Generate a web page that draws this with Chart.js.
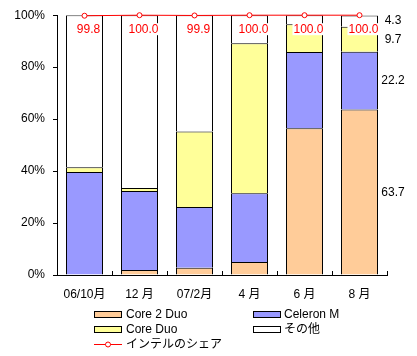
<!DOCTYPE html>
<html><head><meta charset="utf-8">
<script src="https://cdn.jsdelivr.net/npm/chart.js@4/dist/chart.umd.min.js"></script>
<style>
body{margin:0;background:#fff;}
#wrap{position:relative;width:417px;height:356px;overflow:hidden;}
canvas{position:absolute;left:0;top:0;}
.lt{position:absolute;font:12px 'Liberation Sans','Noto Sans CJK JP',sans-serif;color:#000;line-height:14px;white-space:nowrap;}
.bx{position:absolute;width:26px;height:5px;border:1px solid #000;}
</style></head><body>
<div id="wrap"><canvas id="c" width="417" height="356"></canvas><div id="legend"></div></div>
<script>
const categories = ["06/10月", "12 月", "07/2月", "4 月", "6 月", "8 月"];
const core2Duo   = [0.0, 1.9, 2.8, 5.0, 56.5, 63.7];
const celeronM   = [39.6, 30.4, 23.4, 26.5, 29.3, 22.2];
const coreDuo    = [1.9, 1.2, 29.0, 57.7, 10.7, 9.7];
const others     = [58.5, 66.5, 44.8, 10.8, 3.5, 4.3];
const intelShare = [99.8, 100.0, 99.9, 100.0, 100.0, 100.0];
const seriesNames = ["Core 2 Duo", "Celeron M", "Core Duo", "その他", "インテルのシェア"];
const seriesColors = ["#FFCC99", "#9999FF", "#FFFF99", "#FFFFFF", "#FF0000"];

const FONT = "'Liberation Sans','Noto Sans CJK JP',sans-serif";
const stacks = [core2Duo, celeronM, coreDuo, others];

const annot = {
  id: 'annot',
  afterDatasetsDraw(chart) {
    const ctx = chart.ctx, xs = chart.scales.x, ys = chart.scales.y, ca = chart.chartArea;
    ctx.save();
    // inner tick marks on category boundaries
    ctx.strokeStyle = '#000'; ctx.lineWidth = 1;
    for (let i = 1; i <= categories.length; i++) {
      const px = Math.round(xs.getPixelForValue(i - 0.5)) + 0.5;
      ctx.beginPath(); ctx.moveTo(px, ca.bottom); ctx.lineTo(px, ca.bottom - 4); ctx.stroke();
    }
    // share labels
    const meta = chart.getDatasetMeta(4);
    ctx.font = '12px ' + FONT; ctx.textAlign = 'center'; ctx.textBaseline = 'middle';
    meta.data.forEach((pt, i) => {
      const t = intelShare[i].toFixed(1);
      const w = ctx.measureText(t).width;
      const cx = pt.x + 4, cy = ys.getPixelForValue(100) + 14;
      ctx.fillStyle = '#fff'; ctx.fillRect(cx - w / 2 - 1, cy - 6, w + 2, 12);
      ctx.fillStyle = '#f00'; ctx.fillText(t, cx, cy);
    });
    // value labels next to the last bar
    const last = categories.length - 1;
    const bar = chart.getDatasetMeta(0).data[last];
    const lx = bar.x + bar.width / 2 + 15;
    let cum = 0;
    ctx.fillStyle = '#000';
    stacks.forEach(arr => {
      const v = arr[last];
      const py = ys.getPixelForValue(cum + v / 2);
      ctx.fillText(v.toFixed(1), lx, py);
      cum += v;
    });
    ctx.restore();
  }
};

const barDs = (i, data) => ({
  label: seriesNames[i], data, backgroundColor: seriesColors[i],
  borderColor: '#000', borderWidth: 1, inflateAmount: 0, order: 1, stack: 'cpu'
});

new Chart(document.getElementById('c'), {
  type: 'bar',
  data: {
    labels: categories,
    datasets: [
      barDs(0, core2Duo), barDs(1, celeronM), barDs(2, coreDuo), barDs(3, others),
      { type: 'line', label: seriesNames[4], data: intelShare, borderColor: seriesColors[4],
        borderWidth: 1, pointRadius: 2.5, pointBackgroundColor: '#fff', pointBorderColor: '#f00',
        pointBorderWidth: 1, order: 0, stack: 'share', clip: false, tension: 0, fill: false }
    ]
  },
  options: {
    responsive: false, animation: false,
    layout: { padding: { top: 15, right: 30, left: 0, bottom: 0 } },
    plugins: { legend: { display: false }, tooltip: { enabled: false } },
    datasets: { bar: { categoryPercentage: 1, barPercentage: 0.673 } },
    scales: {
      x: {
        stacked: true, offset: true,
        grid: { display: false, drawTicks: false },
        border: { display: true, color: '#000', width: 1 },
        ticks: { color: '#000', font: { size: 12, family: FONT }, padding: 12, maxRotation: 0, autoSkip: false },
        afterFit(s) { s.height = 81; }
      },
      y: {
        stacked: true, min: 0, max: 100,
        ticks: { stepSize: 20, color: '#000', font: { size: 12, family: FONT }, padding: 8, callback: v => v + '%' },
        grid: { drawOnChartArea: false, tickLength: 4, color: '#000' },
        border: { color: '#000', width: 1 },
        afterFit(s) { s.width = 57; }
      }
    }
  },
  plugins: [annot]
});

// legend
const lg = document.getElementById('legend');
const pos = [[94, 126, 314], [253, 284, 314], [94, 126, 329], [253, 284, 329], [94, 126, 344]];
seriesNames.forEach((name, i) => {
  const [bx, tx, cy] = pos[i];
  if (i < 4) {
    const b = document.createElement('div');
    b.className = 'bx'; b.style.left = bx + 'px'; b.style.top = (cy - 3) + 'px';
    b.style.background = seriesColors[i];
    lg.appendChild(b);
  } else {
    const s = document.createElementNS('http://www.w3.org/2000/svg', 'svg');
    s.setAttribute('width', 30); s.setAttribute('height', 9);
    s.style.position = 'absolute'; s.style.left = bx + 'px'; s.style.top = (cy - 4) + 'px';
    s.innerHTML = '<line x1="0" y1="4.5" x2="28" y2="4.5" stroke="' + seriesColors[i] + '" stroke-width="1"/>' +
      '<circle cx="14" cy="4.5" r="2.5" fill="#fff" stroke="' + seriesColors[i] + '" stroke-width="1"/>';
    lg.appendChild(s);
  }
  const t = document.createElement('div');
  t.className = 'lt'; t.textContent = name;
  t.style.left = tx + 'px'; t.style.top = (cy - 7) + 'px';
  lg.appendChild(t);
});
</script>
</body></html>
